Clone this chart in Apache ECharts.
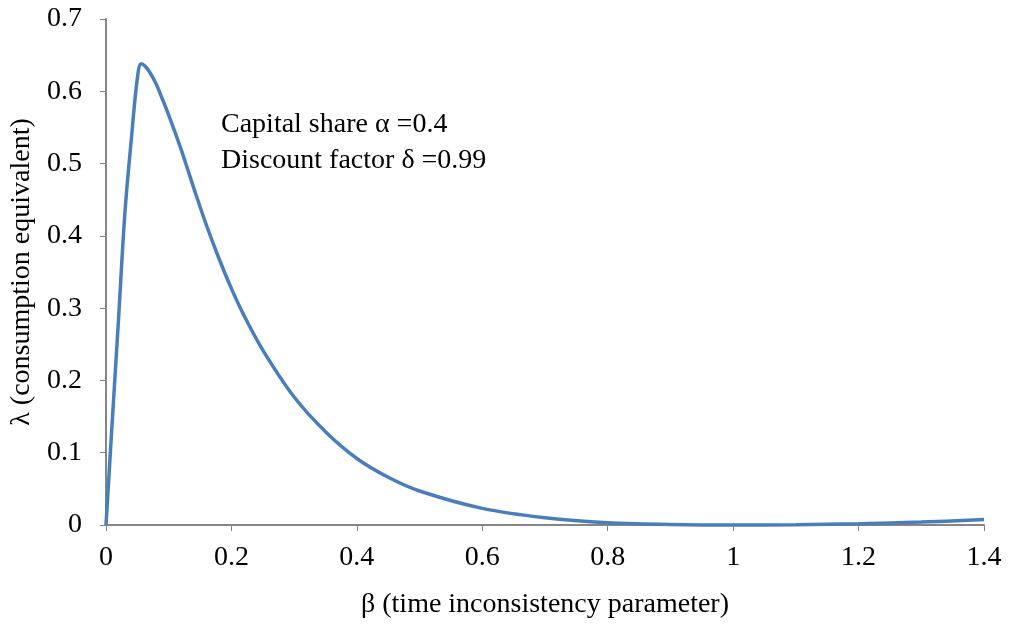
<!DOCTYPE html>
<html>
<head>
<meta charset="utf-8">
<script src="https://cdn.jsdelivr.net/npm/echarts@6/dist/echarts.min.js"></script>
<style>html,body{margin:0;padding:0;background:#fff}#c{width:1009px;height:626px}</style>
</head>
<body>
<div id="c"></div>
<script>
const betaValues = [0, 0.005, 0.01, 0.02, 0.03, 0.04, 0.05, 0.056, 0.062, 0.07, 0.08, 0.09, 0.1, 0.12, 0.14, 0.16, 0.18, 0.2, 0.22, 0.25, 0.3, 0.35, 0.4, 0.45, 0.5, 0.6, 0.7, 0.8, 0.9, 1.0, 1.1, 1.2, 1.3, 1.4];
const lambdaValues = [0, 0.072, 0.144, 0.285, 0.43, 0.53, 0.618, 0.638, 0.635, 0.626, 0.610, 0.589, 0.567, 0.519, 0.466, 0.415, 0.369, 0.327, 0.290, 0.242, 0.177, 0.129, 0.092, 0.066, 0.047, 0.023, 0.010, 0.003, 0.0007, 0, 0.0004, 0.0017, 0.004, 0.0075];
const xTicks = {min: 0, max: 1.4, interval: 0.2};
const yTicks = {min: 0, max: 0.7, interval: 0.1};
const xTitle = 'β (time inconsistency parameter)';
const yTitle = 'λ (consumption equivalent)';
const notes = ['Capital share α =0.4', 'Discount factor δ =0.99'];

const font = '"Liberation Serif", "Times New Roman", serif';
const axisColor = '#868686';
const chart = echarts.init(document.getElementById('c'));
chart.setOption({
  animation: false,
  grid: {left: 106, right: 25, top: 19, bottom: 101, containLabel: false, outerBoundsMode: 'none'},
  xAxis: {
    type: 'value', min: xTicks.min, max: xTicks.max, interval: xTicks.interval,
    name: xTitle, nameLocation: 'middle', nameGap: 66,
    nameTextStyle: {fontFamily: font, fontSize: 28, color: '#000'},
    axisLine: {lineStyle: {color: axisColor, width: 2}},
    axisTick: {show: true, length: 6, lineStyle: {color: axisColor, width: 1}},
    axisLabel: {fontFamily: font, fontSize: 28, color: '#000', margin: 19},
    splitLine: {show: false}
  },
  yAxis: {
    type: 'value', min: yTicks.min, max: yTicks.max, interval: yTicks.interval,
    name: yTitle, nameLocation: 'middle', nameGap: 66, nameRotate: 90,
    nameTextStyle: {fontFamily: font, fontSize: 28, color: '#000'},
    axisLine: {show: true, lineStyle: {color: axisColor, width: 2}},
    axisTick: {show: true, length: 6, lineStyle: {color: axisColor, width: 1}},
    axisLabel: {fontFamily: font, fontSize: 28, color: '#000', margin: 24},
    splitLine: {show: false}
  },
  graphic: [{
    type: 'text', left: 221, top: 107,
    style: {text: notes.join('\n'), font: '28px ' + font, fill: '#000', lineHeight: 36}
  }],
  series: [{
    type: 'line',
    data: betaValues.map((b, i) => [b, lambdaValues[i]]),
    smooth: 0.35,
    showSymbol: false,
    lineStyle: {color: '#4a7ebb', width: 3.5},
    clip: false
  }]
});
</script>
</body>
</html>
